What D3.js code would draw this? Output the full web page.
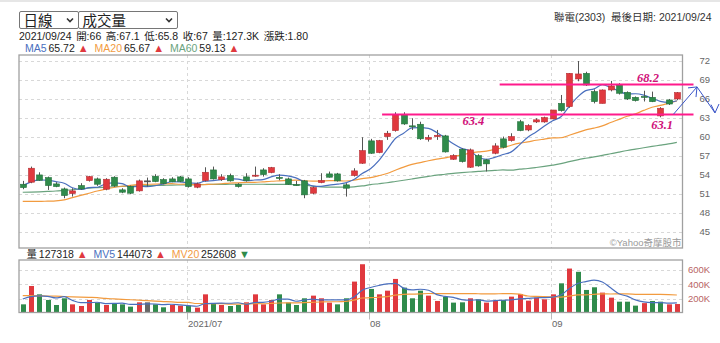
<!DOCTYPE html>
<html>
<head>
<meta charset="utf-8">
<script src="https://cdn.jsdelivr.net/npm/d3@7"></script>
<style>
  body { margin: 0; background: #fff; }
  text { font-family: "Liberation Sans", Arial, "Noto Sans CJK TC", sans-serif; }
</style>
</head>
<body>
<div id="chart"></div>
<script>
// ---- DATA ----
const dates = [
  '2021/06/02','2021/06/03','2021/06/04','2021/06/07','2021/06/08','2021/06/09','2021/06/10','2021/06/11','2021/06/15','2021/06/16',
  '2021/06/17','2021/06/18','2021/06/21','2021/06/22','2021/06/23','2021/06/24','2021/06/25','2021/06/28','2021/06/29','2021/06/30',
  '2021/07/01','2021/07/02','2021/07/05','2021/07/06','2021/07/07','2021/07/08','2021/07/09','2021/07/12','2021/07/13','2021/07/14',
  '2021/07/15','2021/07/16','2021/07/19','2021/07/20','2021/07/21','2021/07/22','2021/07/23','2021/07/26','2021/07/27','2021/07/28',
  '2021/07/29','2021/07/30','2021/08/02','2021/08/03','2021/08/04','2021/08/05','2021/08/06','2021/08/09','2021/08/10','2021/08/11',
  '2021/08/12','2021/08/13','2021/08/16','2021/08/17','2021/08/18','2021/08/19','2021/08/20','2021/08/23','2021/08/24','2021/08/25',
  '2021/08/26','2021/08/27','2021/08/30','2021/08/31','2021/09/01','2021/09/02','2021/09/03','2021/09/06','2021/09/07','2021/09/08',
  '2021/09/09','2021/09/10','2021/09/13','2021/09/14','2021/09/15','2021/09/16','2021/09/17','2021/09/22','2021/09/23','2021/09/24'
];
const opens = [
  52.52,52.84,53.99,53.57,52.57,51.78,51.05,52.31,53.10,53.36,
  51.73,53.63,51.63,52.15,51.47,53.05,53.78,53.26,53.36,53.68,
  53.36,52.05,53.10,54.78,53.26,53.89,52.52,53.68,53.90,54.78,
  54.36,53.60,53.36,52.45,53.05,51.10,52.78,54.15,54.15,52.42,
  53.90,55.84,59.37,57.53,60.05,61.00,63.47,61.75,62.00,59.63,
  60.05,60.16,56.47,58.05,55.21,57.05,56.37,57.42,59.69,59.42,
  62.40,61.10,62.37,62.37,62.84,65.30,64.79,69.16,70.05,67.16,
  65.30,67.42,68.21,67.05,66.26,66.40,66.26,63.32,65.84,66.00
];
const highs = [
  53.05,55.31,54.41,53.73,52.84,51.99,51.89,52.68,53.84,53.57,
  53.47,53.78,51.89,52.31,53.26,53.57,54.10,53.47,53.63,53.84,
  53.63,52.78,55.20,55.31,54.10,54.20,52.68,54.26,55.31,55.05,
  55.26,54.10,53.57,53.05,53.20,52.15,54.26,54.52,54.31,52.68,
  55.05,59.95,59.69,59.53,60.95,63.90,63.90,62.95,62.40,60.32,
  61.10,60.32,57.26,58.20,58.16,57.26,56.53,59.00,60.05,60.58,
  62.70,62.00,62.95,63.20,64.26,66.63,70.10,72.00,70.30,67.50,
  67.50,68.85,68.50,67.20,66.40,67.30,67.16,64.70,66.00,67.10
];
const lows = [
  51.73,52.68,53.05,51.62,52.05,50.31,50.57,51.62,52.94,52.26,
  51.57,52.10,51.10,50.94,51.36,52.15,52.84,52.52,52.84,52.84,
  51.99,51.89,52.94,53.26,53.05,52.94,51.99,52.94,53.68,53.73,
  54.26,53.15,52.42,52.26,50.31,50.94,52.68,53.57,52.94,50.57,
  53.74,55.74,57.32,57.42,59.53,60.84,61.90,61.10,59.53,59.26,
  59.53,57.53,56.37,55.95,55.10,55.30,54.53,57.26,58.20,59.26,
  60.90,60.90,62.20,62.25,62.80,64.00,64.60,68.80,68.05,65.30,
  65.30,67.20,66.70,65.84,65.60,65.60,65.50,63.10,65.05,65.80
];
const closes = [
  51.99,55.05,53.15,52.31,52.15,50.73,51.47,51.78,53.73,52.52,
  53.31,52.26,51.26,51.10,53.05,53.05,52.94,52.63,52.90,52.98,
  52.15,52.57,54.41,53.36,53.68,53.05,52.15,53.10,53.95,54.05,
  55.15,53.50,52.52,52.40,50.84,51.99,53.10,53.63,53.05,51.89,
  54.63,57.84,57.42,59.42,60.58,63.47,62.05,61.60,59.70,59.90,
  60.26,57.63,57.05,56.10,57.95,55.42,55.74,58.58,58.37,60.05,
  61.00,61.80,62.70,63.05,64.25,64.15,70.05,69.95,68.21,65.58,
  67.42,68.05,66.90,66.00,65.74,66.30,65.57,64.53,65.20,67.00
];
const volumes = [
  123,378,262,184,114,207,123,100,184,147,
  114,133,123,91,151,151,123,82,114,105,
  105,77,262,137,114,100,114,151,262,123,
  184,262,147,114,207,244,207,147,123,207,
  439,680,337,262,313,476,355,207,313,244,
  170,230,147,151,207,193,147,170,184,230,
  266.795,174,216,193,262,415,620,575,323,360,
  286,216,160,160,105,140.047,170,160,123,127.318
].map(v => v * 1000);

// moving averages before the window starts (history not shown)
const ma5Head = [52.3, 52.9, 53.2, 53.15];
const ma20Head = [49.8, 49.8, 49.8, 49.85, 49.9, 50.05, 50.4, 50.75, 51.1, 51.45,
  51.75, 52.0, 52.2, 52.35, 52.45, 52.5, 52.55, 52.58, 52.6];
const ma60Head = [51.25, 51.28, 51.32, 51.38, 51.45, 51.55, 51.65, 51.78, 51.9, 51.98,
  52.05, 52.12, 52.18, 52.22, 52.26, 52.3, 52.32, 52.35, 52.38, 52.4,
  52.42, 52.45, 52.48, 52.5, 52.5, 52.52, 52.52, 52.52, 52.52, 52.52,
  52.5, 52.5, 52.48, 52.45, 52.4, 52.2, 52.1, 52.05, 52.05, 52.05,
  52.1, 52.25, 52.45, 52.6, 52.75, 52.95, 53.15, 53.35, 53.55, 53.75,
  53.95, 54.1, 54.25, 54.35, 54.45, 54.55, 54.62, 54.7, 54.78];
const mv5Head = [197, 230, 240, 235].map(v => v * 1000);
const mv20Head = [244, 243, 241, 239, 236, 232, 228, 224, 220, 216,
  205, 199, 193, 187, 181, 175, 168, 162, 156].map(v => v * 1000);

const priceTicks = [45, 48, 51, 54, 57, 60, 63, 66, 69, 72];
const volTicks = [200000, 400000, 600000];
const volTickLabels = ['200K', '400K', '600K'];
const monthTickDates = ['2021/07/01', '2021/08/02', '2021/09/01'];
const monthTickLabels = ['2021/07', '08', '09'];

// hand drawn marks on the chart
const markLevels = [68.3, 63.55];
const markFrom = [57.6, 43.4];          // candle index where the pink line starts
const markTexts = ['68.2', '63.4', '63.1'];
const markTextVals = [68.65, 61.9, 61.3];
const markTextIdx = [74.2, 53.1, 75.9];

// ---- LAYOUT ----
const W = 720, H = 343;
const RED = '#e0393e', GREEN = '#2f8b4b', GRAY = '#666';
const C_MA5 = '#4a6fbe', C_MA20 = '#f29b3f', C_MA60 = '#6aa37e';
const PINK = '#ff1a8c';
const plot = { left: 19, right: 682.5, top: 55, bottom: 248 };
const vbox = { top: 260, bottom: 312.5 };

const svg = d3.select('#chart').append('svg')
  .attr('width', W).attr('height', H)
  .style('display', 'block');

svg.append('rect').attr('x', 0).attr('y', 0).attr('width', W).attr('height', 2).attr('fill', '#e6e6e6');

// scales
const x = d3.scalePoint().domain(dates).range([18.6, 681]).padding(0.5);
const xi = d3.scaleLinear().domain([0, dates.length - 1]).range([x(dates[0]), x(dates[dates.length - 1])]);
const y = d3.scaleLinear().domain([45, 72]).range([231.8, 61]);
const yv = d3.scaleLinear().domain([0, 600000]).range([313.2, 270]);

function movingAvg(arr, n, head) {
  return arr.map((v, i) => i < n - 1 ? head[i] : d3.mean(arr.slice(i - n + 1, i + 1)));
}
const ma5 = movingAvg(closes, 5, ma5Head);
const ma20 = movingAvg(closes, 20, ma20Head);
const ma60 = movingAvg(closes, 60, ma60Head);
const mv5 = movingAvg(volumes, 5, mv5Head);
const mv20 = movingAvg(volumes, 20, mv20Head);

// lay a row of texts out between x0 and x1, gaps shared by weight
function flowRow(yy, x0, x1, items) {
  const g = svg.append('g');
  const nodes = items.map(it => g.append('text').attr('y', yy)
    .attr('font-size', it.fs || 10.5).attr('fill', it.c || '#222').text(it.t));
  const widths = nodes.map(n => n.node().getComputedTextLength());
  const free = (x1 - x0) - d3.sum(widths);
  const wsum = d3.sum(items.slice(1), it => it.g);
  let cx = x0;
  nodes.forEach((n, k) => {
    if (k > 0) cx += free * items[k].g / wsum;
    n.attr('x', cx);
    cx += widths[k];
  });
}

// ---- HEADER ----
function selectBox(x0, w, label) {
  const g = svg.append('g');
  g.append('rect').attr('x', x0 + 0.5).attr('y', 11.5).attr('width', w).attr('height', 17)
    .attr('fill', '#fff').attr('stroke', '#767676').attr('rx', 1.5);
  g.append('text').attr('x', x0 + 4.5).attr('y', 25.5).attr('font-size', 14.5).attr('fill', '#222').text(label);
  const cx = x0 + w - 8;
  g.append('path').attr('d', `M${cx - 3},18.5 L${cx},21.5 L${cx + 3},18.5`)
    .attr('fill', 'none').attr('stroke', '#333').attr('stroke-width', 1.6);
}
selectBox(19, 59, '日線');
selectBox(78, 99, '成交量');

svg.append('text').attr('x', 711.5).attr('y', 21).attr('text-anchor', 'end')
  .style('white-space', 'pre')
  .attr('font-size', 10.5).attr('fill', '#333').text('聯電(2303)  最後日期: 2021/09/24');

const last = dates.length - 1;
flowRow(39.5, 19, 308, [
  { t: dates[last] },
  { t: '開:' + opens[last], g: 1 },
  { t: '高:' + highs[last], g: 1 },
  { t: '低:' + lows[last], g: 1 },
  { t: '收:' + closes[last], g: 1 },
  { t: '量:' + d3.format('.1f')(volumes[last] / 1000) + 'K', g: 1 },
  { t: '漲跌:' + (closes[last] - closes[last - 1]).toFixed(2), g: 1 }
]);

flowRow(52, 25, 239.5, [
  { t: 'MA5', c: C_MA5 }, { t: d3.format('.2f')(ma5[last]), g: 1 }, { t: '▲', c: RED, fs: 11, g: 1.6 },
  { t: 'MA20', c: C_MA20, g: 3.2 }, { t: d3.format('.2f')(ma20[last]), g: 1 }, { t: '▲', c: RED, fs: 11, g: 1.6 },
  { t: 'MA60', c: C_MA60, g: 3.2 }, { t: d3.format('.2f')(ma60[last]), g: 1 }, { t: '▲', c: RED, fs: 11, g: 1.6 }
]);

flowRow(257.5, 26.5, 250, [
  { t: '量' }, { t: d3.format('d')(volumes[last]), g: 1 }, { t: '▲', c: RED, fs: 11, g: 1.6 },
  { t: 'MV5', c: C_MA5, g: 3.2 }, { t: d3.format('d')(Math.round(mv5[last])), g: 1 }, { t: '▲', c: RED, fs: 11, g: 1.6 },
  { t: 'MV20', c: C_MA20, g: 3.2 }, { t: d3.format('d')(Math.round(mv20[last])), g: 1 }, { t: '▼', c: GREEN, fs: 11, g: 1.6 }
]);

// ---- MAIN PANEL ----
const main = svg.append('g');
main.append('g').selectAll('line').data(priceTicks).join('line')
  .attr('x1', plot.left).attr('x2', plot.right)
  .attr('y1', d => Math.round(y(d)) + 0.5).attr('y2', d => Math.round(y(d)) + 0.5)
  .attr('stroke', '#d8d8d8').attr('stroke-dasharray', '3,3');
main.append('g').selectAll('line').data(monthTickDates).join('line')
  .attr('x1', d => Math.round(x(d) - 1.5) + 0.5).attr('x2', d => Math.round(x(d) - 1.5) + 0.5)
  .attr('y1', plot.top).attr('y2', plot.bottom)
  .attr('stroke', '#d8d8d8').attr('stroke-dasharray', '3,3');

main.append('rect').attr('x', plot.left).attr('y', plot.top)
  .attr('width', plot.right - plot.left).attr('height', plot.bottom - plot.top)
  .attr('fill', 'none').attr('stroke', '#a0a0a0').attr('stroke-width', 1.3);

main.append('g').selectAll('text').data(priceTicks).join('text')
  .attr('x', 699.5).attr('y', d => y(d)).attr('dy', '0.35em')
  .attr('font-size', 9.5).attr('fill', GRAY).text(d => d);

main.append('text').attr('x', 681.5).attr('y', 245.5).attr('text-anchor', 'end')
  .attr('font-size', 9.5).attr('fill', '#9a9a9a').text('©Yahoo奇摩股市');

// moving average lines
const idx = d3.range(dates.length);
const maLine = arr => d3.line().x(i => x(dates[i])).y(i => y(arr[i])).curve(d3.curveMonotoneX)(idx);
[[ma60, C_MA60], [ma20, C_MA20], [ma5, C_MA5]].forEach(([arr, c]) => {
  main.append('path').attr('d', maLine(arr)).attr('fill', 'none')
    .attr('stroke', c).attr('stroke-width', 1.2);
});

// candles
const candleColor = i => closes[i] > opens[i] ? RED : closes[i] < opens[i] ? GREEN : '#555';
const candles = main.append('g').selectAll('g').data(idx).join('g');
candles.append('line')
  .attr('x1', i => Math.round(x(dates[i])) + 0.5).attr('x2', i => Math.round(x(dates[i])) + 0.5)
  .attr('y1', i => y(highs[i])).attr('y2', i => y(lows[i]))
  .attr('stroke', '#555').attr('stroke-width', 1);
candles.append('rect')
  .attr('x', i => Math.round(x(dates[i])) - 2.5)
  .attr('width', 6)
  .attr('y', i => y(Math.max(opens[i], closes[i])))
  .attr('height', i => Math.max(1, Math.abs(y(opens[i]) - y(closes[i]))))
  .attr('fill', candleColor)
  .attr('stroke', i => d3.color(candleColor(i)).darker(0.6))
  .attr('stroke-width', 0.6);

// pink hand drawn lines and labels
markLevels.forEach((v, k) => {
  svg.append('line').attr('x1', xi(markFrom[k])).attr('x2', 693.5)
    .attr('y1', y(v)).attr('y2', y(v))
    .attr('stroke', PINK).attr('stroke-width', 2);
});
markTexts.forEach((t, k) => {
  svg.append('text').attr('x', xi(markTextIdx[k])).attr('y', y(markTextVals[k]))
    .style('font-family', '"Liberation Serif", "DejaVu Serif", serif')
    .attr('font-style', 'italic').attr('font-weight', 'bold')
    .attr('font-size', 12.5).attr('fill', '#d0127a').text(t);
});

// blue arrows
svg.append('path')
  .attr('d', `M${xi(78.6)},${y(63.6)} L697,${y(67.9)} M688,${y(67.75)} L697,${y(67.9)} L696,${y(66.3)}` +
             ` M697,${y(67.9)} L715,${y(63.8)} M711,${y(65.1)} L715,${y(63.8)} L719,${y(65.2)}`)
  .attr('fill', 'none').attr('stroke', '#3a55c8').attr('stroke-width', 1);

// ---- VOLUME PANEL ----
const vol = svg.append('g');
vol.append('g').selectAll('line').data(volTicks).join('line')
  .attr('x1', plot.left).attr('x2', plot.right)
  .attr('y1', d => Math.round(yv(d)) + 0.5).attr('y2', d => Math.round(yv(d)) + 0.5)
  .attr('stroke', '#d8d8d8').attr('stroke-dasharray', '3,3');
vol.append('g').selectAll('line').data(monthTickDates).join('line')
  .attr('x1', d => Math.round(x(d) - 1.5) + 0.5).attr('x2', d => Math.round(x(d) - 1.5) + 0.5)
  .attr('y1', vbox.top).attr('y2', vbox.bottom)
  .attr('stroke', '#d8d8d8').attr('stroke-dasharray', '3,3');
vol.append('g').selectAll('line').data(monthTickDates).join('line')
  .attr('x1', d => Math.round(x(d) - 1.5) + 0.5).attr('x2', d => Math.round(x(d) - 1.5) + 0.5)
  .attr('y1', vbox.bottom).attr('y2', vbox.bottom + 7)
  .attr('stroke', '#bbb');

const volColor = i => {
  const prev = i === 0 ? opens[0] : closes[i - 1];
  return closes[i] > prev ? RED : closes[i] < prev ? GREEN : '#666';
};
vol.append('g').selectAll('rect').data(idx).join('rect')
  .attr('x', i => Math.round(x(dates[i])) - 2)
  .attr('width', 5)
  .attr('y', i => yv(volumes[i]))
  .attr('height', i => vbox.bottom - yv(volumes[i]))
  .attr('fill', volColor);

const mvLine = arr => d3.line().x(i => x(dates[i])).y(i => yv(arr[i])).curve(d3.curveMonotoneX)(idx);
[[mv20, C_MA20], [mv5, C_MA5]].forEach(([arr, c]) => {
  vol.append('path').attr('d', mvLine(arr)).attr('fill', 'none')
    .attr('stroke', c).attr('stroke-width', 1.2);
});

vol.append('rect').attr('x', plot.left).attr('y', vbox.top)
  .attr('width', plot.right - plot.left).attr('height', vbox.bottom - vbox.top)
  .attr('fill', 'none').attr('stroke', '#a0a0a0').attr('stroke-width', 1.3);

vol.append('g').selectAll('text').data(volTicks).join('text')
  .attr('x', 688).attr('y', d => yv(d)).attr('dy', '0.35em')
  .attr('font-size', 9.5).attr('fill', '#b86464').text((d, k) => volTickLabels[k]);

vol.append('g').selectAll('text').data(monthTickDates).join('text')
  .attr('x', d => Math.round(x(d) - 1.5) + 1).attr('y', 327)
  .attr('font-size', 9.5).attr('fill', GRAY).text((d, k) => monthTickLabels[k]);
</script>
</body>
</html>
